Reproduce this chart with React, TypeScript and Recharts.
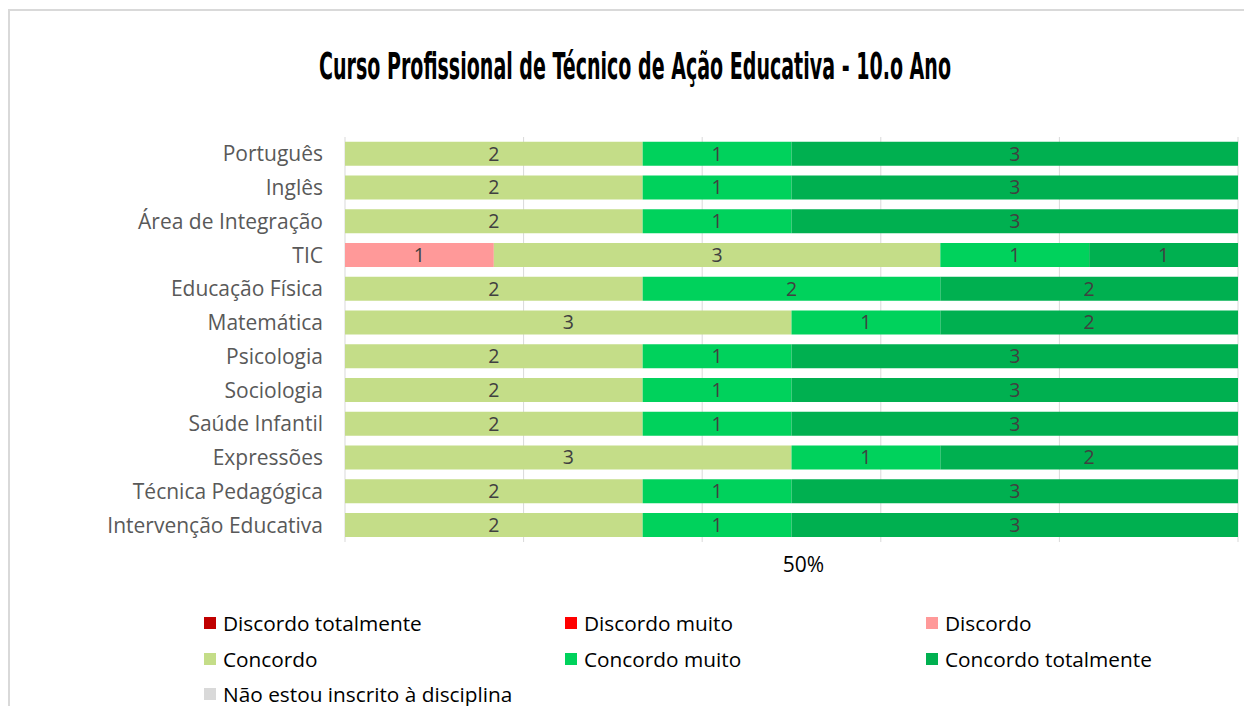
import React from 'react';
import { BarChart, Bar, XAxis, YAxis, CartesianGrid, Legend, LabelList } from 'recharts';

const categories = [
  'Português', 'Inglês', 'Área de Integração', 'TIC', 'Educação Física', 'Matemática',
  'Psicologia', 'Sociologia', 'Saúde Infantil', 'Expressões', 'Técnica Pedagógica', 'Intervenção Educativa',
];
const discordoTotalmente = [0, 0, 0, 0, 0, 0, 0, 0, 0, 0, 0, 0];
const discordoMuito = [0, 0, 0, 0, 0, 0, 0, 0, 0, 0, 0, 0];
const discordo = [0, 0, 0, 1, 0, 0, 0, 0, 0, 0, 0, 0];
const concordo = [2, 2, 2, 3, 2, 3, 2, 2, 2, 3, 2, 2];
const concordoMuito = [1, 1, 1, 1, 2, 1, 1, 1, 1, 1, 1, 1];
const concordoTotalmente = [3, 3, 3, 1, 2, 2, 3, 3, 3, 2, 3, 3];
const naoInscrito = [0, 0, 0, 0, 0, 0, 0, 0, 0, 0, 0, 0];

const series = [
  { key: 'dt', name: 'Discordo totalmente', color: '#C00000', values: discordoTotalmente },
  { key: 'dm', name: 'Discordo muito', color: '#FF0000', values: discordoMuito },
  { key: 'd', name: 'Discordo', color: '#FF9999', values: discordo },
  { key: 'c', name: 'Concordo', color: '#C4DD88', values: concordo },
  { key: 'cm', name: 'Concordo muito', color: '#00D25C', values: concordoMuito },
  { key: 'ct', name: 'Concordo totalmente', color: '#00B050', values: concordoTotalmente },
  { key: 'ni', name: 'Não estou inscrito à disciplina', color: '#D9D9D9', values: naoInscrito },
];

const data = categories.map((cat, i) => {
  const row: Record<string, any> = { cat };
  series.forEach((s) => { row[s.key] = s.values[i]; });
  return row;
});

const FONT = '"Open Sans", Lato, sans-serif';

const renderLegend = () => (
  <div style={{ display: 'grid', gridTemplateColumns: '361px 361px 361px', rowGap: 0, fontFamily: FONT, fontSize: 20.8, color: '#000' }}>
    {series.map((s) => (
      <div key={s.key} style={{ display: 'flex', alignItems: 'center', height: 35.8, whiteSpace: 'nowrap' }}>
        <span style={{ display: 'inline-block', width: 12, height: 12, background: s.color, marginRight: 7 }} />
        <span>{s.name}</span>
      </div>
    ))}
  </div>
);

const XTick = (props: any) => {
  const { x, y } = props;
  return (
    <text x={x + 12} y={y + 22} textAnchor="middle" fontFamily={FONT} fontSize={21} fill="#000">50%</text>
  );
};

export default function App() {
  return (
    <div style={{ position: 'absolute', left: 0, top: 0, width: 1244, height: 706, overflow: 'hidden', background: '#fff' }}>
      <div style={{ position: 'absolute', left: 8, top: 9, width: 1300, height: 800, border: '2px solid #d9d9d9', boxSizing: 'border-box' }} />
      <div style={{ position: 'absolute', left: 0, top: 0 }}>
        <BarChart
          width={1244}
          height={706}
          layout="vertical"
          data={data}
          stackOffset="expand"
          barCategoryGap="14%"
          margin={{ top: 137, right: 6, bottom: 124, left: 0 }}
        >
          <text x={635} y={79} textAnchor="middle" fontFamily="'DejaVu Sans Condensed', 'DejaVu Sans', sans-serif" fontWeight="bold" fontSize={38} textLength={632} lengthAdjust="spacingAndGlyphs" fill="#000">
            Curso Profissional de Técnico de Ação Educativa - 10.o Ano
          </text>
          <CartesianGrid horizontal={false} stroke="#d9d9d9" verticalValues={[0, 0.2, 0.4, 0.6, 0.8, 1]} />
          <XAxis type="number" domain={[0, 1]} ticks={[0.5]} axisLine={false} tickLine={false} height={40} tick={<XTick />} />
          <YAxis
            type="category"
            dataKey="cat"
            width={345}
            axisLine={false}
            tickLine={false}
            tickMargin={16}
            interval={0}
            tick={{ fontFamily: FONT, fontSize: 21, fill: '#595959' }}
          />
          {series.map((s) => (
            <Bar key={s.key} dataKey={s.key} name={s.name} stackId="a" fill={s.color} isAnimationActive={false}>
              <LabelList
                dataKey={s.key}
                position="center"
                formatter={(v: any) => (v ? v : '')}
                style={{ fontFamily: FONT, fontSize: 19.5, fill: '#404040' }}
              />
            </Bar>
          ))}
          <Legend layout="vertical" align="center" verticalAlign="middle" wrapperStyle={{ top: 605, left: 204, width: 1090 }} content={renderLegend} />
        </BarChart>
      </div>
    </div>
  );
}
